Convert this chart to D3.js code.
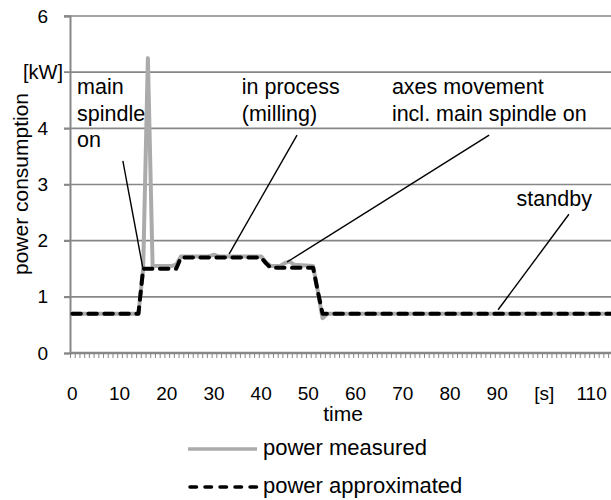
<!DOCTYPE html>
<html>
<head>
<meta charset="utf-8">
<script src="https://cdn.jsdelivr.net/npm/d3@7"></script>
<style>
  body { margin: 0; background: #fff; }
  text { font-family: Arial, "Liberation Sans", sans-serif; fill: #000; }
</style>
</head>
<body>
<div id="chart"></div>
<script>
// time axis: one category per second, labels every 10 s
var timeExtent = [0, 114];
var xTickValues = [0, 10, 20, 30, 40, 50, 60, 70, 80, 90, 100, 110];
var xTickLabels = ["0", "10", "20", "30", "40", "50", "60", "70", "80", "90", "[s]", "110"];
var yTickValues = [0, 1, 2, 3, 4, 6];

// power measured (grey line)
var measuredTime  = [0, 14, 15, 16, 17, 21, 22, 23, 29, 30, 31, 40, 41, 42, 44, 45, 46, 47, 51, 52, 53, 54, 114];
var measuredPower = [0.7, 0.7, 1.5, 5.25, 1.55, 1.55, 1.57, 1.72, 1.72, 1.75, 1.72, 1.72, 1.62, 1.55, 1.55, 1.6, 1.63, 1.57, 1.55, 1.1, 0.62, 0.7, 0.7];

// power approximated (dashed black line)
var approxTime  = [0, 14, 15, 22, 23, 40, 41, 42, 51, 52, 53, 114];
var approxPower = [0.7, 0.7, 1.5, 1.5, 1.7, 1.7, 1.6, 1.52, 1.52, 1.1, 0.7, 0.7];

// annotations: text anchor and pointer line in data units (time, power)
var annotations = [
  {lines: ["main", "spindle", "on"], at: [1.0, 4.61], anchor: "start", from: [10.7, 3.42], to: [14.9, 1.53]},
  {lines: ["in process", "(milling)"], at: [35.9, 4.61], anchor: "start", from: [47.6, 3.88], to: [33.2, 1.76]},
  {lines: ["axes movement", "incl. main spindle on"], at: [67.7, 4.61], anchor: "start", from: [88.3, 3.88], to: [45.5, 1.62]},
  {lines: ["standby"], at: [102.1, 2.62], anchor: "middle", from: [105.2, 2.47], to: [90.2, 0.77]}
];

var width = 611, height = 500;
var margin = {top: 16, left: 70, bottom: 147};
var step = 4.72;

var svg = d3.select("#chart").append("svg")
    .attr("width", width)
    .attr("height", height);

var x = d3.scaleLinear()
    .domain([timeExtent[0] - 0.5, timeExtent[1] + 0.5])
    .range([margin.left, margin.left + (timeExtent[1] - timeExtent[0] + 1) * step]);

var y = d3.scaleLinear()
    .domain([0, 6])
    .range([height - margin.bottom, margin.top]);

var gridColor = "#878787";

//horizontal gridlines
svg.append("g").selectAll("line")
    .data([1, 2, 3, 4, 5, 6])
    .enter().append("line")
    .attr("x1", margin.left - 6)
    .attr("x2", width)
    .attr("y1", function(d) { return y(d); })
    .attr("y2", function(d) { return y(d); })
    .attr("stroke", gridColor)
    .attr("stroke-width", 1.7);

//y axis
var yAxis = d3.axisLeft(y)
    .tickValues(yTickValues)
    .tickSize(6)
    .tickPadding(16)
    .tickFormat(d3.format("d"));

var gy = svg.append("g")
    .attr("transform", "translate(" + margin.left + ",0)")
    .call(yAxis);
gy.select(".domain").attr("stroke", gridColor).attr("stroke-width", 2);
gy.selectAll(".tick line").attr("stroke", gridColor).attr("stroke-width", 1.7);
gy.selectAll("text").attr("font-size", 19).attr("fill", "#000");

svg.append("text")
    .attr("x", margin.left - 7)
    .attr("y", y(5))
    .attr("dy", "0.35em")
    .attr("text-anchor", "end")
    .attr("font-size", 20)
    .text("[kW]");

//x axis: minor tick per second
var minorTicks = d3.range(timeExtent[0], timeExtent[1] + 2).map(function(d) { return d - 0.5; });
var xAxis = d3.axisBottom(x)
    .tickValues(minorTicks)
    .tickSize(5)
    .tickFormat("");

var gx = svg.append("g")
    .attr("transform", "translate(0," + y(0) + ")")
    .call(xAxis);
gx.select(".domain").remove();
gx.selectAll(".tick line").attr("stroke", gridColor).attr("stroke-width", 1);
gx.append("line")
    .attr("x1", margin.left)
    .attr("x2", width)
    .attr("stroke", gridColor)
    .attr("stroke-width", 2.5);

svg.append("g").selectAll("text")
    .data(xTickValues)
    .enter().append("text")
    .attr("x", function(d) { return x(d); })
    .attr("y", 400)
    .attr("text-anchor", "middle")
    .attr("font-size", 19)
    .text(function(d, i) { return xTickLabels[i]; });

//axis titles
svg.append("text")
    .attr("x", 343)
    .attr("y", 421)
    .attr("text-anchor", "middle")
    .attr("font-size", 21)
    .text("time");

svg.append("text")
    .attr("transform", "translate(28," + 184 + ") rotate(-90)")
    .attr("text-anchor", "middle")
    .attr("font-size", 21)
    .text("power consumption");

//series lines
var line = d3.line()
    .x(function(d) { return x(d[0]); })
    .y(function(d) { return y(d[1]); });

var measured = measuredTime.map(function(t, i) { return [t, measuredPower[i]]; });
var approx = approxTime.map(function(t, i) { return [t, approxPower[i]]; });

svg.append("path")
    .datum(measured)
    .attr("d", line)
    .attr("fill", "none")
    .attr("stroke", "#ababab")
    .attr("stroke-width", 4)
    .attr("stroke-linejoin", "round");

svg.append("path")
    .datum(approx)
    .attr("d", line)
    .attr("fill", "none")
    .attr("stroke", "#000")
    .attr("stroke-width", 4)
    .attr("stroke-dasharray", "8.5,7.5")
    .attr("stroke-linecap", "round")
    .attr("stroke-linejoin", "round");

//annotations
annotations.forEach(function(a) {
  svg.append("line")
      .attr("x1", x(a.from[0])).attr("y1", y(a.from[1]))
      .attr("x2", x(a.to[0])).attr("y2", y(a.to[1]))
      .attr("stroke", "#000")
      .attr("stroke-width", 1.4);
  var t = svg.append("text")
      .attr("x", x(a.at[0]))
      .attr("y", y(a.at[1]))
      .attr("text-anchor", a.anchor)
      .attr("font-size", 21.5);
  a.lines.forEach(function(s, i) {
    t.append("tspan")
        .attr("x", x(a.at[0]))
        .attr("dy", i === 0 ? 0 : 26.5)
        .text(s);
  });
});

//legend
var legend = svg.append("g");
legend.append("line")
    .attr("x1", 188).attr("x2", 257)
    .attr("y1", 449).attr("y2", 449)
    .attr("stroke", "#ababab")
    .attr("stroke-width", 3.5);
legend.append("text")
    .attr("x", 263).attr("y", 455)
    .attr("font-size", 22)
    .text("power measured");
legend.append("line")
    .attr("x1", 190).attr("x2", 257)
    .attr("y1", 487).attr("y2", 487)
    .attr("stroke", "#000")
    .attr("stroke-width", 3.5)
    .attr("stroke-dasharray", "6.5,8.5")
    .attr("stroke-linecap", "round");
legend.append("text")
    .attr("x", 263).attr("y", 493)
    .attr("font-size", 22)
    .text("power approximated");
</script>
</body>
</html>
